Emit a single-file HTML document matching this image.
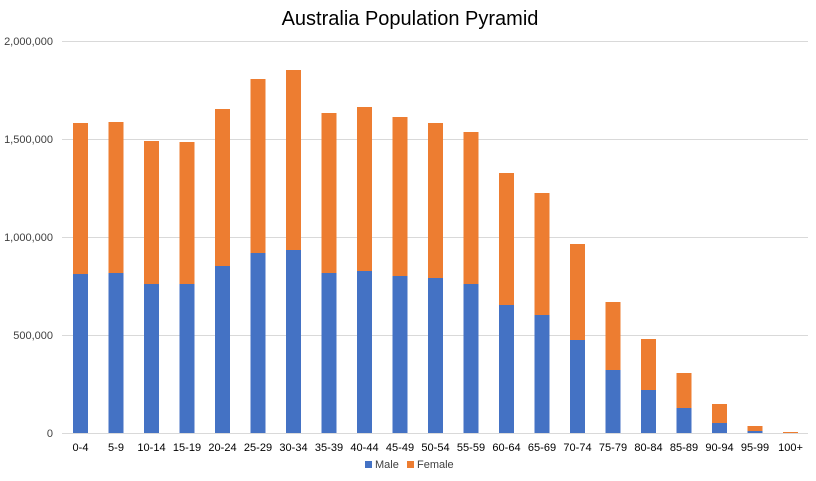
<!DOCTYPE html>
<html><head><meta charset="utf-8"><style>body{margin:0;background:#fff}svg{display:block}</style></head><body>
<svg width="816" height="481" xmlns="http://www.w3.org/2000/svg" font-family="Liberation Sans, sans-serif">
<text x="410" y="25" font-size="20" text-anchor="middle" fill="#000">Australia Population Pyramid</text>
<g stroke="#d9d9d9" stroke-width="1">
<line x1="62" x2="808" y1="41.5" y2="41.5"/><line x1="62" x2="808" y1="139.5" y2="139.5"/><line x1="62" x2="808" y1="237.5" y2="237.5"/><line x1="62" x2="808" y1="335.5" y2="335.5"/><line x1="62" x2="808" y1="433.5" y2="433.5"/>
</g>
<g font-size="11" fill="#404040" text-anchor="end">
<text x="53" y="45">2,000,000</text><text x="53" y="143">1,500,000</text><text x="53" y="241">1,000,000</text><text x="53" y="339">500,000</text><text x="53" y="437">0</text>
</g>
<g fill="#ed7d31">
<rect x="73" y="123" width="15" height="151"/>
<rect x="108.5" y="122" width="15" height="151"/>
<rect x="144" y="141" width="15" height="143"/>
<rect x="179.5" y="142" width="15" height="142"/>
<rect x="215" y="109" width="15" height="157"/>
<rect x="250.5" y="79" width="15" height="174"/>
<rect x="286" y="70" width="15" height="180"/>
<rect x="321.5" y="113" width="15" height="160"/>
<rect x="357" y="107" width="15" height="164"/>
<rect x="392.5" y="117" width="15" height="159"/>
<rect x="428" y="123" width="15" height="155"/>
<rect x="463.5" y="132" width="15" height="152"/>
<rect x="499" y="173" width="15" height="132"/>
<rect x="534.5" y="193" width="15" height="122"/>
<rect x="570" y="244" width="15" height="96"/>
<rect x="605.5" y="302" width="15" height="68"/>
<rect x="641" y="339" width="15" height="51"/>
<rect x="676.5" y="373" width="15" height="35"/>
<rect x="712" y="404" width="15" height="19"/>
<rect x="747.5" y="426" width="15" height="5"/>
<rect x="783" y="432" width="15" height="1"/>
</g>
<g fill="#4472c4">
<rect x="73" y="274" width="15" height="159"/>
<rect x="108.5" y="273" width="15" height="160"/>
<rect x="144" y="284" width="15" height="149"/>
<rect x="179.5" y="284" width="15" height="149"/>
<rect x="215" y="266" width="15" height="167"/>
<rect x="250.5" y="253" width="15" height="180"/>
<rect x="286" y="250" width="15" height="183"/>
<rect x="321.5" y="273" width="15" height="160"/>
<rect x="357" y="271" width="15" height="162"/>
<rect x="392.5" y="276" width="15" height="157"/>
<rect x="428" y="278" width="15" height="155"/>
<rect x="463.5" y="284" width="15" height="149"/>
<rect x="499" y="305" width="15" height="128"/>
<rect x="534.5" y="315" width="15" height="118"/>
<rect x="570" y="340" width="15" height="93"/>
<rect x="605.5" y="370" width="15" height="63"/>
<rect x="641" y="390" width="15" height="43"/>
<rect x="676.5" y="408" width="15" height="25"/>
<rect x="712" y="423" width="15" height="10"/>
<rect x="747.5" y="431" width="15" height="2"/>
</g>
<g font-size="11" fill="#000" text-anchor="middle">
<text x="80.5" y="451">0-4</text><text x="116" y="451">5-9</text><text x="151.5" y="451">10-14</text><text x="187" y="451">15-19</text><text x="222.5" y="451">20-24</text><text x="258" y="451">25-29</text><text x="293.5" y="451">30-34</text><text x="329" y="451">35-39</text><text x="364.5" y="451">40-44</text><text x="400" y="451">45-49</text><text x="435.5" y="451">50-54</text><text x="471" y="451">55-59</text><text x="506.5" y="451">60-64</text><text x="542" y="451">65-69</text><text x="577.5" y="451">70-74</text><text x="613" y="451">75-79</text><text x="648.5" y="451">80-84</text><text x="684" y="451">85-89</text><text x="719.5" y="451">90-94</text><text x="755" y="451">95-99</text><text x="790.5" y="451">100+</text>
</g>
<rect x="365" y="461" width="7" height="7" fill="#4472c4"/><text x="375" y="468" font-size="11" fill="#404040">Male</text>
<rect x="407" y="461" width="7" height="7" fill="#ed7d31"/><text x="417" y="468" font-size="11" fill="#404040">Female</text>
</svg>
</body></html>
